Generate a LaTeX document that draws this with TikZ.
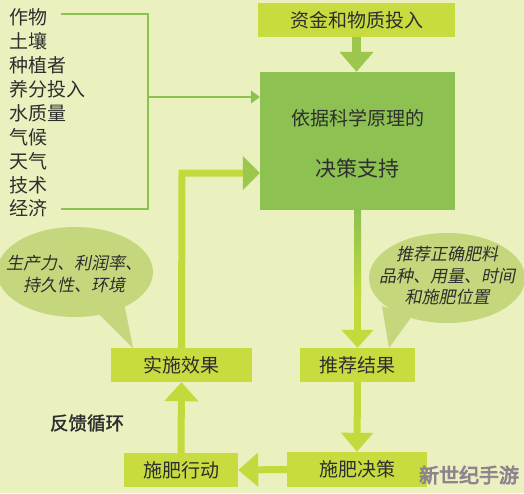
\documentclass[tikz,border=0pt]{standalone}
\usepackage{fontspec}
\setmainfont{Noto Sans CJK SC}
\newfontfamily\cjkit[FakeSlant=0.2]{Noto Sans CJK SC}
\newfontfamily\cjkbold[FakeBold=1.5]{Noto Sans CJK SC}
\newfontfamily\cjkwm[FakeBold=4]{Noto Sans CJK SC}
\usetikzlibrary{arrows.meta}
\definecolor{bg}{HTML}{EAF0BE}
\definecolor{boxy}{HTML}{C8DC3F}
\definecolor{boxg}{HTML}{8DC152}
\definecolor{lineg}{HTML}{8DC152}
\definecolor{arry}{HTML}{C4DA3C}
\definecolor{arrg}{HTML}{9CC64C}
\definecolor{bub}{HTML}{C5D77C}
\definecolor{txt}{HTML}{2E2E2E}
\definecolor{wmgray}{HTML}{8E8490}
\tikzset{
  ybox/.style={fill=boxy, draw=none, inner sep=0pt, text=txt, font=\fontsize{19}{22}\selectfont},
  mainbox/.style={fill=boxg, draw=none, inner sep=0pt},
  maintext/.style={text=txt, align=center, inner sep=0pt, font=\fontsize{19}{23}\selectfont},
  item/.style={anchor=west, inner sep=0pt, text=txt, font=\fontsize{19}{22}\selectfont},
  bline/.style={draw=lineg, line width=2pt},
  fat/.style={draw=arry, line width=7pt},
  bubtext/.style={align=center, inner sep=0pt, text=txt, font=\cjkit\fontsize{17}{21.5}\selectfont},
  wmtext/.style={inner sep=0pt, font=\cjkwm\fontsize{20}{24}\selectfont},
}
\begin{document}
\begin{tikzpicture}[x=1pt,y=-1pt]
\fill[bg] (0,0) rectangle (524,493);
\useasboundingbox (0,0) rectangle (524,493);

% bubbles
\fill[bub] (75,272) ellipse [x radius=78pt, y radius=45pt];
\fill[bub] (95,310) -- (133,348) -- (124,303) -- cycle;
\fill[bub] (447,278) ellipse [x radius=78pt, y radius=45pt];
\fill[bub] (382,306) -- (389,348) -- (412,316) -- cycle;
\node[bubtext] (lt) at (74,274) {生产力、利润率、\\持久性、环境};
\node[bubtext] (rt) at (447,276) {推荐正确肥料\\品种、用量、时间\\和施肥位置};

% boxes
\node[ybox, minimum width=197pt, minimum height=34pt] (funds) at (356.5,20) {资金和物质投入};
\node[mainbox, minimum width=195pt, minimum height=138pt] (main) at (357.5,141) {};
\node[maintext] (mt) at (357.5,144) {依据科学原理的\\[28pt]{\fontsize{21}{23}\selectfont 决策支持}};
\node[ybox, minimum width=141pt, minimum height=34pt] (effect) at (181.5,365) {实施效果};
\node[ybox, minimum width=115pt, minimum height=34pt] (rec) at (357.5,365) {推荐结果};
\node[ybox, minimum width=140pt, minimum height=35pt] (dec) at (357,469.5) {施肥决策};
\node[ybox, minimum width=114pt, minimum height=34pt] (act) at (181,470) {施肥行动};

% list
\node[item] (l1) at (9,17) {作物};
\node[item] (l2) at (9,41) {土壤};
\node[item] (l3) at (9,65) {种植者};
\node[item] (l4) at (9,89) {养分投入};
\node[item] (l5) at (9,113) {水质量};
\node[item] (l6) at (9,137) {气候};
\node[item] (l7) at (9,161) {天气};
\node[item] (l8) at (9,185) {技术};
\node[item] (l9) at (9,208) {经济};

% bracket
\coordinate (b1) at (61,14);
\coordinate (b2) at (148,14);
\coordinate (b3) at (148,209);
\coordinate (b4) at (61,209);
\coordinate (bm) at (148,97);
\draw[bline] (b1) -- (b2) -- (b3) -- (b4);
\draw[bline, -{Triangle[length=9pt,width=13pt]}] (bm) -- (main.west |- bm);

% thick arrows
\draw[fat, draw=arrg, line width=9pt, -{Triangle[length=20pt,width=33pt,color=arrg]}] (funds.south) -- (funds.south |- main.north);
\draw[fat, draw=arry, -{Triangle[length=18pt,width=31pt,color=arry]}] (main.south) -- (rec.north);
\shade[top color=boxg, bottom color=arry] (354,210) rectangle (361,300);
\draw[fat, -{Triangle[length=19pt,width=31pt,color=arry]}] (rec.south) -- (dec.north);
\draw[fat, -{Triangle[length=20pt,width=33pt,color=arry]}] (dec.west) -- (act.east);
\draw[fat, -{Triangle[length=19pt,width=33pt,color=arry]}] (act.north) -- (effect.south);
\coordinate (c1) at (182,173);
\draw[fat, -{Triangle[length=17pt,width=33pt,color=arrg]}] (effect.north) -- (c1) -- (main.west |- c1);

% label
\node[text=txt, font=\cjkbold\fontsize{18.5}{22}\selectfont, inner sep=0pt] (fb) at (87,423) {反馈循环};

% watermark
\node[wmtext, text=wmgray] (wm) at (469,475) {新世纪手游};
\end{tikzpicture}
\end{document}
